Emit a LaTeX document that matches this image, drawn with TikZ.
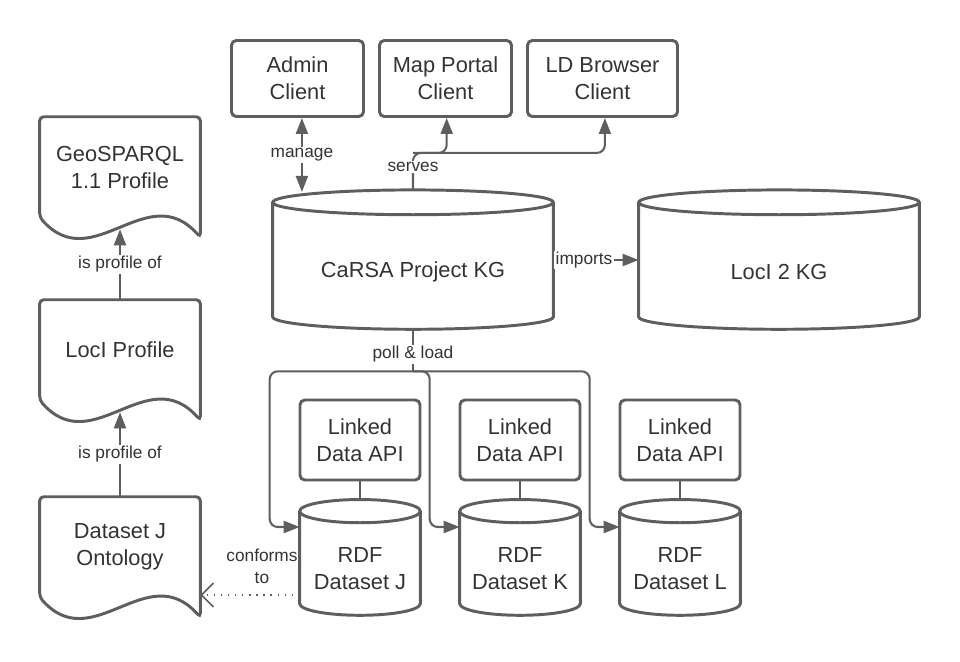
\documentclass[tikz,border=0pt]{standalone}
\usepackage{fontspec}
\setmainfont{Liberation Sans}
\usetikzlibrary{arrows.meta,calc}

\definecolor{linegray}{HTML}{5E5E5E}
\definecolor{textgray}{HTML}{333333}

\newcommand\boxfont{\fontsize{15.5}{19.2}\selectfont}
\newcommand\lblfont{\fontsize{12.3}{15.6}\selectfont}

% cylinder round a node (#2 = half height of the ellipse)
\newcommand\drawdb[2]{%
\draw[dbline] let \p1=(#1.north west), \p2=(#1.south east), \n1={(\x2-\x1)/2} in
  (\x1,{\y1+#2}) -- (\x1,{\y2+#2}) arc[start angle=180,end angle=360,x radius=\n1,y radius=#2] -- (\x2,{\y1+#2})
  ({\x1+\n1},{\y1+#2}) ellipse[x radius=\n1,y radius=#2];
}

% document shape with wavy bottom
\newcommand\drawdoc[1]{%
\draw[docline] let \p1=(#1.north west), \p2=(#1.south east), \n1={\x2-\x1} in
  (\x2,{\y2-5mm}) .. controls ({\x1+0.67*\n1},{\y2+10mm}) and ({\x1+0.33*\n1},{\y2-15mm}) .. (\x1,\y2)
  -- (\x1,\y1) -- (\x2,\y1) -- cycle;
}

\begin{document}
\begin{tikzpicture}[x=0.25mm,y=-0.25mm,
  client/.style={draw=linegray,line width=2.1pt,rounded corners=1.2mm,minimum width=33mm,minimum height=19mm,align=center,text=textgray,font=\boxfont},
  api/.style={client,minimum width=30mm,minimum height=20mm},
  bigdb/.style={minimum width=70mm,minimum height=28.5mm,align=center,text=textgray,font=\boxfont},
  rdf/.style={bigdb,minimum width=30mm,minimum height=23mm},
  doc/.style={minimum width=40mm,minimum height=25mm,align=center,text=textgray,font=\boxfont},
  dbline/.style={draw=linegray,line width=2.1pt},
  docline/.style={draw=linegray,line width=2.1pt,rounded corners=1mm},
  conn/.style={draw=linegray,line width=1.45pt},
  tip/.style={-{Triangle[length=4mm,width=3mm]}},
  lbl/.style={fill=white,inner sep=1pt,align=center,text=textgray,font=\lblfont}]

\useasboundingbox (0,0) rectangle (960,661);

%clients
\node[client] (admin) at (297.5,78.5) {Admin\\Client};
\node[client] (mapportal) at (445.5,78.5) {Map Portal\\Client};
\node[client,minimum width=37.5mm] (ldbrowser) at (602.5,78.5) {LD Browser\\Client};

%knowledge graphs
\node[bigdb] (carsa) at (413,272) {CaRSA Project KG};
\node[bigdb] (locikg) at (779,272) {LocI 2 KG};
\drawdb{carsa}{3.1mm}
\drawdb{locikg}{3.1mm}

%datasets and their APIs
\node[api] (apij) at (360,440) {Linked\\Data API};
\node[api] (apik) at (520,440) {Linked\\Data API};
\node[api] (apil) at (680,440) {Linked\\Data API};
\node[rdf] (rdfj) at (360,569) {RDF\\Dataset J};
\node[rdf] (rdfk) at (520,569) {RDF\\Dataset K};
\node[rdf] (rdfl) at (680,569) {RDF\\Dataset L};
\foreach \d in {rdfj,rdfk,rdfl}
  {\drawdb{\d}{2.9mm}}

%profiles
\node[doc] (geo) at (120,167) {GeoSPARQL\\1.1 Profile};
\node[doc] (locip) at (120,350) {LocI Profile};
\node[doc] (ontj) at (120,547) {Dataset J\\Ontology};
\foreach \d in {geo,locip,ontj}
  {\drawdoc{\d}}

%manage and serves
\coordinate (carsatop) at ([yshift=6.2mm]carsa.north);
\draw[conn,{Triangle[length=4mm,width=3mm]}-{Triangle[length=4mm,width=3mm]}] ([xshift=1.1mm]admin.south) -- node[lbl]{manage} ([xshift=1.1mm,yshift=-0.5mm]admin.south |- carsatop);
\coordinate (srv) at ([yshift=9.25mm]carsatop);
\draw[conn,tip,rounded corners=2mm] (carsatop) -- node[lbl,pos=0.62]{serves} (srv) -| ([xshift=0.6mm]ldbrowser.south);
\draw[conn,tip,rounded corners=2mm] (srv) -| ([xshift=0.3mm]mapportal.south);

%imports
\draw[conn,tip] ([yshift=3mm]carsa.east) -- node[lbl,pos=0.36]{imports} ([yshift=3mm]locikg.west);

%poll and load
\coordinate (poll) at ([yshift=-10.5mm]carsa.south);
\draw[conn] (carsa.south) -- node[lbl,pos=0.6]{poll \& load} (poll);
\foreach \d in {rdfj,rdfk,rdfl}
\draw[conn,tip,rounded corners=2mm] (poll) -| ([xshift=-7.5mm,yshift=10.5mm]\d.west) -- ([yshift=10.5mm]\d.west);

%APIs on datasets
\foreach \a/\d in {apij/rdfj,apik/rdfk,apil/rdfl}
\draw[conn] (\a.south) -- ([yshift=5.8mm]\d.north);

%profile chain
\draw[conn,tip] (locip.north) -- node[lbl]{is profile of} ([yshift=-3mm]geo.south);
\draw[conn,tip] (ontj.north) -- node[lbl]{is profile of} ([yshift=-3mm]locip.south);

%conforms to
\draw[conn,line width=1pt,dash pattern=on 0.8pt off 4.2pt,-{Straight Barb[length=3mm,width=6mm,line width=1.2pt]}] ([yshift=-6.5mm]rdfj.west) -- node[lbl,pos=0.38,yshift=7.2mm,fill=none]{conforms\\to} ([yshift=-6.5mm]rdfj.west -| ontj.east);
\end{tikzpicture}
\end{document}
